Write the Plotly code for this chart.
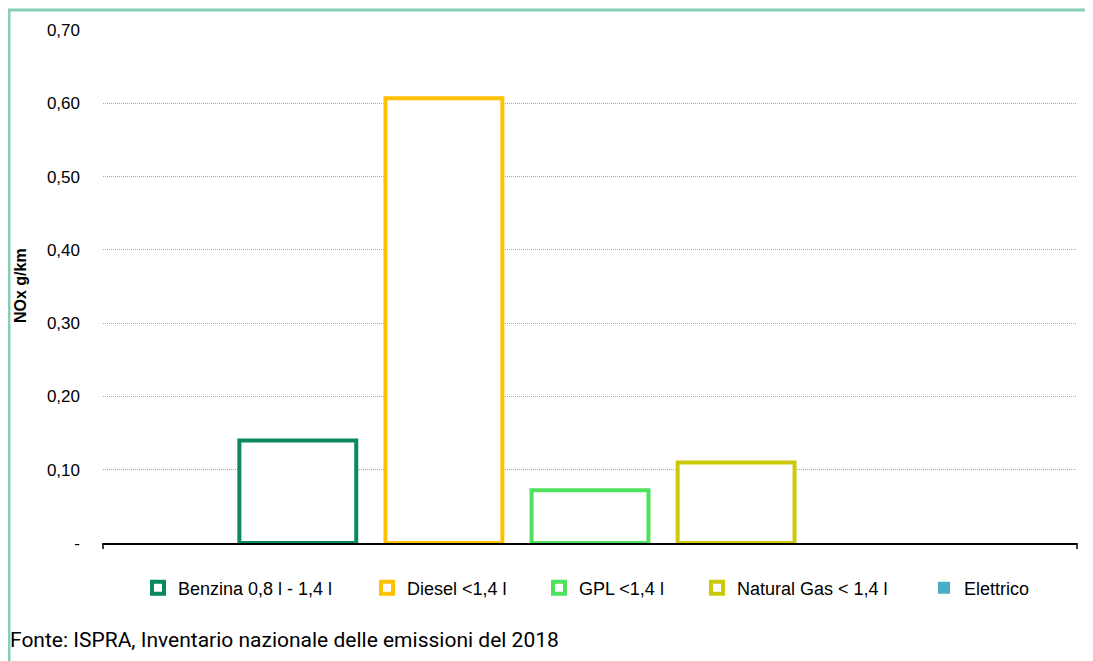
import plotly.graph_objects as go

category = ["NOx"]
series_names = ["Benzina 0,8 l - 1,4 l", "Diesel <1,4 l", "GPL <1,4 l", "Natural Gas < 1,4 l", "Elettrico"]
series_values = [0.14, 0.607, 0.072, 0.11, 0.0]
series_colors = ["#0A8A5C", "#FFC000", "#4EE05E", "#CCC80A", "#4BACC6"]
tick_vals = [0, 0.1, 0.2, 0.3, 0.4, 0.5, 0.6, 0.7]
tick_text = ["-", "0,10", "0,20", "0,30", "0,40", "0,50", "0,60", "0,70"]
legend_marker_px = [157, 386, 558, 716, 943]

# page has an 8px body margin; figure coords = page coords - 8
OFF = 8
W, H = 1093 - OFF, 661 - OFF
ml, mr, mt, mb = 103 - OFF, 16, 30 - OFF, 118

pw = W - ml - mr
ph = H - mt - mb
def px_x(px):  # page px -> paper
    return (px - OFF - ml) / pw
def px_y(py):
    return (H - mb - (py - OFF)) / ph

fig = go.Figure()
legend_layout = {}
for i, (name, val, col) in enumerate(zip(series_names, series_values, series_colors)):
    is_filled = name == "Elettrico"
    lname = "legend" if i == 0 else f"legend{i+1}"
    fig.add_trace(go.Bar(
        x=category, y=[val], name=name, legend=lname,
        marker=dict(color=col if is_filled else "white",
                    line=dict(color=col, width=0 if is_filled else 4)),
    ))
    legend_layout[lname] = dict(
        orientation="h", x=px_x(legend_marker_px[i] - 19), xanchor="left",
        y=px_y(588), yanchor="middle", font=dict(size=18), itemwidth=30,
        bgcolor="rgba(0,0,0,0)", borderwidth=0,
    )

fig.update_layout(
    width=W, height=H,
    margin=dict(l=ml, r=mr, t=mt, b=mb, autoexpand=False),
    paper_bgcolor="white", plot_bgcolor="white",
    barmode="group", bargap=0.25, bargroupgap=0.2,
    font=dict(family="Liberation Sans, Arial, sans-serif", size=17, color="#000000"),
    showlegend=True,
    xaxis=dict(showticklabels=False, showgrid=False, showline=True, linecolor="black", linewidth=1.5,
               ticks="", range=[-0.5, 0.5], zeroline=False, automargin=False),
    yaxis=dict(range=[0, 0.7], tickvals=tick_vals, ticktext=tick_text, showgrid=True,
               gridcolor="#AAAAAA", griddash="1px,1px", gridwidth=1, zeroline=False, showline=False,
               ticks="", ticklabelstandoff=22, automargin=False,
               tickfont=dict(size=17)),
    shapes=[
        dict(type="rect", xref="paper", yref="paper",
             x0=px_x(9), x1=px_x(1100),
             y0=px_y(670), y1=px_y(10),
             line=dict(color="#86CFB3", width=3), layer="below"),
        dict(type="line", xref="paper", yref="paper", x0=0, x1=0, y0=0, y1=px_y(549),
             line=dict(color="black", width=1.5)),
        dict(type="line", xref="paper", yref="paper", x0=1, x1=1, y0=0, y1=px_y(549),
             line=dict(color="black", width=1.5)),
    ],
    annotations=[
        dict(text="<b>NOx g/km</b>", textangle=-90,
             xref="paper", yref="paper", x=px_x(20), y=px_y(286),
             xanchor="center", yanchor="middle", showarrow=False, font=dict(size=16)),
        dict(text="Fonte: ISPRA, Inventario nazionale delle emissioni del 2018",
             xref="paper", yref="paper", x=px_x(8), y=px_y(640),
             xanchor="left", yanchor="middle", showarrow=False,
             font=dict(size=21, family="Roboto, Liberation Sans, sans-serif")),
    ],
    **legend_layout,
)

fig.write_html("out.html")
